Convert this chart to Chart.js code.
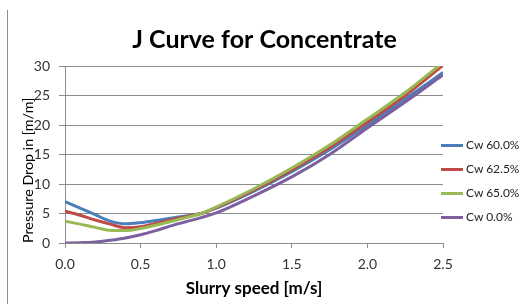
<!DOCTYPE html>
<html>
<head>
<meta charset="utf-8">
<script src="https://cdn.jsdelivr.net/npm/chart.js@4"></script>
<style>
  html, body { margin: 0; padding: 0; background: #fff; }
  #wrap { position: relative; width: 529px; height: 304px; overflow: hidden; }
  #edge { position: absolute; left: 7px; top: 10px; height: 294px; border-left: 1px solid #8c8c8c; }
  #legend { position: absolute; left: 441px; top: 0; font: 12px Lato, sans-serif; color: #222; }
  .item { position: absolute; left: 0; height: 14px; white-space: nowrap; }
  .item span.swatch { position: absolute; left: 0; top: 6px; width: 22px; height: 3px; }
  .item span.label { position: absolute; left: 25px; top: 0; line-height: 14px; }
</style>
</head>
<body>
<div id="wrap">
  <canvas id="chart" width="529" height="304"></canvas>
  <div id="edge"></div>
  <div id="legend"></div>
</div>
<script>
// slurry speed [m/s]
const speeds = [0, 0.1, 0.2, 0.3, 0.4, 0.5, 0.6, 0.7, 0.8, 0.9, 1.0, 1.25, 1.5, 1.75, 2.0, 2.25, 2.5];

// pressure drop [m/m] per concentration
const cw600 = [7.0, 5.9, 4.8, 3.7, 3.25, 3.45, 3.8, 4.2, 4.6, 5.0, 5.9, 8.8, 12.1, 15.8, 20.0, 24.4, 28.9];
const cw625 = [5.4, 4.7, 3.9, 3.2, 2.6, 2.75, 3.3, 3.9, 4.45, 5.0, 6.0, 9.0, 12.4, 16.2, 20.5, 25.0, 30.1];
const cw650 = [3.7, 3.2, 2.65, 2.15, 2.1, 2.45, 3.0, 3.65, 4.3, 5.0, 6.1, 9.2, 12.7, 16.6, 21.0, 25.5, 30.6];
const cw000 = [0, 0.05, 0.15, 0.46, 0.85, 1.4, 2.1, 2.9, 3.6, 4.3, 5.1, 8.0, 11.2, 15.0, 19.5, 23.9, 28.5];

const seriesNames = ['Cw 60.0%', 'Cw 62.5%', 'Cw 65.0%', 'Cw 0.0%'];
const seriesValues = [cw600, cw625, cw650, cw000];
const seriesColors = ['#4a7ebb', '#be4b48', '#98b954', '#7d60a0'];

const yTicks = [0, 5, 10, 15, 20, 25, 30];
const xTicks = [0, 0.5, 1.0, 1.5, 2.0, 2.5];

const GRID = '#8c8c8c';
const FONT = 'Lato, sans-serif';

const datasets = seriesValues.map((vals, i) => ({
  label: seriesNames[i],
  data: vals.map((v, j) => ({ x: speeds[j], y: v })),
  borderColor: seriesColors[i],
  backgroundColor: seriesColors[i],
  borderWidth: 3,
  pointRadius: 0,
  fill: false,
  cubicInterpolationMode: 'monotone',
  order: seriesValues.length - i
}));

new Chart(document.getElementById('chart'), {
  type: 'line',
  data: { datasets: datasets },
  options: {
    responsive: false,
    animation: false,
    events: [],
    layout: { padding: 0 },
    plugins: {
      legend: { display: false },
      tooltip: { enabled: false },
      title: {
        display: true,
        text: 'J Curve for Concentrate',
        color: '#000',
        font: { family: FONT, size: 25, weight: 'bold', lineHeight: 1.2 },
        padding: { top: 25, bottom: 11 }
      }
    },
    scales: {
      x: {
        type: 'linear',
        min: 0,
        max: 2.5,
        afterBuildTicks: (scale) => { scale.ticks = xTicks.map(v => ({ value: v })); },
        afterFit: (scale) => { scale.height = 61; },
        ticks: {
          color: '#333',
          padding: 8,
          font: { family: FONT, size: 14 },
          callback: (v) => Number(v).toFixed(1)
        },
        grid: { drawOnChartArea: false, drawTicks: true, tickLength: 5, color: GRID },
        border: { display: true, color: GRID },
        title: {
          display: true,
          text: 'Slurry speed [m/s]',
          color: '#000',
          font: { family: FONT, size: 17, weight: 'bold', lineHeight: 1.2 },
          padding: { top: 0, bottom: 5 }
        }
      },
      y: {
        min: 0,
        max: 30,
        afterBuildTicks: (scale) => { scale.ticks = yTicks.map(v => ({ value: v })); },
        afterFit: (scale) => { scale.width = 65; },
        ticks: {
          color: '#333',
          padding: 9,
          font: { family: FONT, size: 14 }
        },
        grid: { color: GRID, tickLength: 6, drawTicks: true },
        border: { display: true, color: GRID },
        title: {
          display: true,
          text: 'Pressure Drop in [m/m]',
          align: 'start',
          color: '#000',
          font: { family: FONT, size: 14.3, lineHeight: 1.2 },
          padding: { top: 20, bottom: 0 }
        }
      },
      // empty right-hand axis that only reserves the room the legend sits in
      legendRoom: {
        type: 'linear',
        position: 'right',
        afterFit: (scale) => { scale.width = 86; },
        ticks: { display: false },
        grid: { display: false, drawOnChartArea: false },
        border: { display: false }
      }
    }
  }
});

// legend on the right, built from the series arrays
const legend = document.getElementById('legend');
const rowTops = [138, 162, 186, 210];
seriesNames.forEach((name, i) => {
  const item = document.createElement('div');
  item.className = 'item';
  item.style.top = rowTops[i] + 'px';
  item.innerHTML = '<span class="swatch" style="background:' + seriesColors[i] + '"></span><span class="label">' + name + '</span>';
  legend.appendChild(item);
});
</script>
</body>
</html>
